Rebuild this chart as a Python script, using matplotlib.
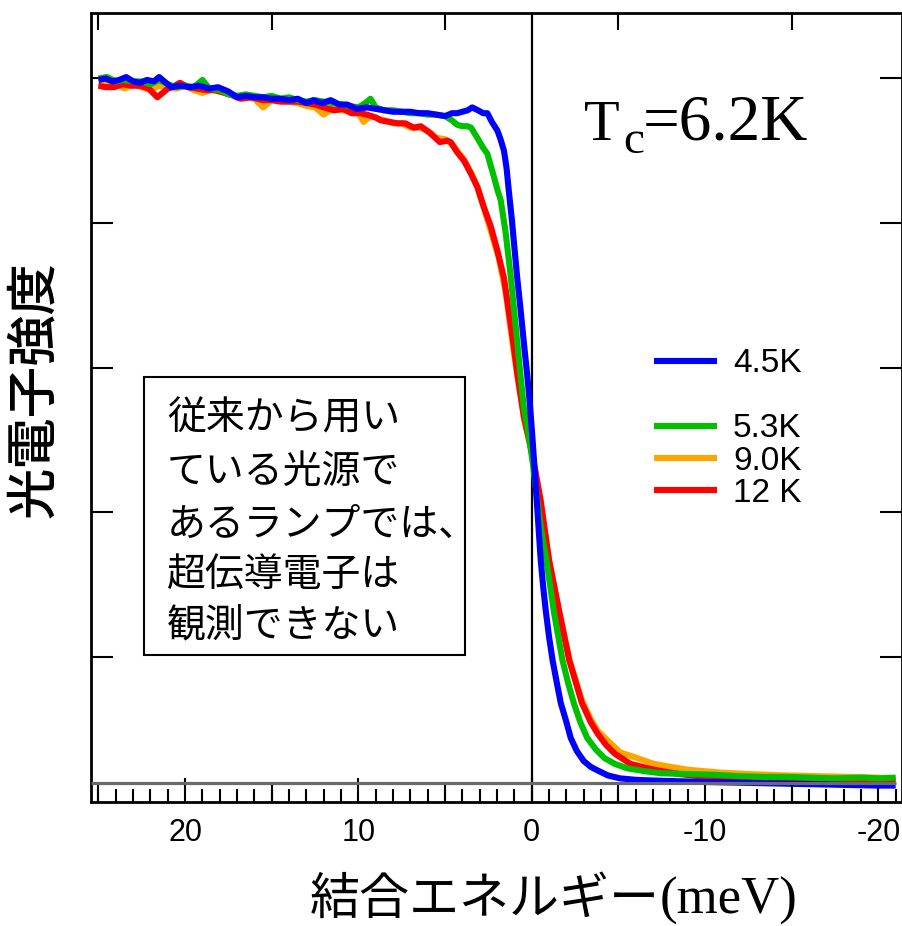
import matplotlib
matplotlib.use("Agg")
import matplotlib.pyplot as plt
from matplotlib.lines import Line2D
from matplotlib.patches import Rectangle
from matplotlib.ticker import NullLocator

plt.rcParams['font.family'] = ['Liberation Sans', 'DejaVu Sans']
plt.rcParams['axes.unicode_minus'] = False

# ---------------- data (binding energy in meV, photoelectron intensity) ----------------
e_45 = [25.0, 24.6, 24.2, 23.8, 23.4, 23.0, 22.6, 22.2, 21.8, 21.5, 21.1, 20.8, 20.3, 19.7, 19.2,
        18.6, 18.1, 17.5, 17.0, 16.5, 16.0, 15.5, 15.0, 14.5, 14.0, 13.5, 13.0, 12.6, 12.1, 11.6,
        11.1, 10.65, 10.1, 9.5, 9.0, 8.5, 8.0, 7.5, 7.0, 6.5, 6.0, 5.5, 5.0, 4.6, 4.3, 4.0, 3.7,
        3.43, 3.1, 2.8, 2.56, 2.3, 1.98, 1.8, 1.6, 1.45, 1.31, 1.15, 1.02, 0.85, 0.64, 0.45, 0.25,
        0.1, -0.04, -0.2, -0.33, -0.52, -0.65, -0.81, -1.0, -1.2, -1.45, -1.68, -2.0, -2.25, -2.6,
        -3.0, -3.4, -3.8, -4.4, -5.1, -6.0, -7.0, -8.5, -10.0, -12.0, -14.0, -16.0, -18.0, -20.0, -21.0]
i_45 = [4.99, 5.00, 4.98, 4.99, 5.01, 4.98, 4.97, 4.99, 4.98, 5.01, 4.97, 4.94, 4.95, 4.94, 4.95,
        4.93, 4.94, 4.91, 4.87, 4.88, 4.87, 4.87, 4.86, 4.86, 4.85, 4.86, 4.83, 4.85, 4.83, 4.85,
        4.82, 4.82, 4.79, 4.80, 4.79, 4.78, 4.77, 4.77, 4.77, 4.76, 4.76, 4.75, 4.74, 4.76, 4.76, 4.77, 4.78,
        4.80, 4.78, 4.76, 4.76, 4.70, 4.64, 4.58, 4.50, 4.38, 4.21, 4.03, 3.86, 3.64, 3.40, 3.17, 2.94,
        2.74, 2.52, 2.24, 2.01, 1.67, 1.50, 1.32, 1.14, 0.98, 0.82, 0.68, 0.55, 0.44, 0.35,
        0.28, 0.24, 0.215, 0.18, 0.16, 0.15, 0.145, 0.14, 0.135, 0.13, 0.125, 0.12, 0.115, 0.11, 0.11]

e_53 = [25.0, 24.5, 24.0, 23.5, 23.0, 22.5, 22.0, 21.5, 21.0, 20.5, 20.0, 19.5, 19.0, 18.6, 18.0,
        17.5, 17.0, 16.5, 16.0, 15.5, 15.0, 14.5, 14.0, 13.5, 13.0, 12.5, 12.0, 11.5, 11.0, 10.5,
        10.0, 9.6, 9.3, 9.0, 8.5, 8.0, 7.5, 7.0, 6.5, 6.0, 5.5, 5.0, 4.6, 4.3, 4.0, 3.7, 3.5, 3.14,
        2.8, 2.56, 2.37, 2.18, 1.98, 1.79, 1.5, 1.21, 0.92, 0.64, 0.45, 0.25, -0.04, -0.3, -0.52,
        -0.85, -1.27, -1.77, -2.1, -2.43, -2.8, -3.2, -3.7, -4.2, -4.8, -5.5, -6.5, -7.5, -9.0,
        -10.5, -12.0, -13.5, -14.8, -16.0, -17.5, -19.0, -20.0, -21.0]
i_53 = [5.00, 5.01, 4.98, 4.99, 4.98, 4.98, 4.96, 4.99, 4.96, 4.94, 4.95, 4.94, 4.99, 4.93, 4.92,
        4.89, 4.88, 4.89, 4.88, 4.87, 4.88, 4.86, 4.87, 4.85, 4.84, 4.85, 4.84, 4.83, 4.82, 4.81,
        4.80, 4.83, 4.86, 4.80, 4.78, 4.78, 4.77, 4.76, 4.76, 4.75, 4.75, 4.74, 4.71, 4.68, 4.67, 4.67, 4.66, 4.59,
        4.52, 4.48, 4.40, 4.32, 4.23, 4.16, 3.93, 3.63, 3.28, 2.94, 2.72, 2.59, 2.36, 2.11, 1.90,
        1.67, 1.32, 0.98, 0.82, 0.68, 0.55, 0.44, 0.36, 0.30, 0.26, 0.23, 0.21, 0.195, 0.19,
        0.185, 0.175, 0.17, 0.17, 0.165, 0.16, 0.165, 0.16, 0.165]

e_90 = [25.0, 24.5, 24.0, 23.5, 23.0, 22.5, 22.0, 21.5, 21.0, 20.5, 20.0, 19.5, 19.0, 18.5, 18.0,
        17.5, 17.0, 16.5, 16.0, 15.5, 15.0, 14.5, 14.0, 13.5, 13.0, 12.5, 12.0, 11.5, 11.0, 10.5,
        10.0, 9.7, 9.3, 9.0, 8.5, 8.0, 7.5, 7.0, 6.5, 6.0, 5.5, 5.0, 4.6, 4.3, 3.9, 3.5, 3.1, 2.7,
        2.3, 1.9, 1.5, 1.2, 0.8, 0.4, 0.0, -0.5, -1.0, -1.6, -2.2, -2.9, -3.4, -3.8, -4.4, -5.1,
        -6.1, -7.05, -8.0, -9.0, -10.9, -12.5, -14.8, -16.5, -18.6, -20.0, -21.0]
i_90 = [4.97, 4.96, 4.97, 4.93, 4.96, 4.94, 4.92, 4.95, 4.94, 4.93, 4.95, 4.92, 4.90, 4.92, 4.91,
        4.89, 4.88, 4.87, 4.86, 4.80, 4.85, 4.85, 4.84, 4.83, 4.81, 4.80, 4.75, 4.79, 4.78, 4.78,
        4.76, 4.70, 4.74, 4.73, 4.71, 4.69, 4.69, 4.66, 4.66, 4.64, 4.59, 4.58, 4.55, 4.50, 4.44, 4.35, 4.24, 4.08,
        3.92, 3.76, 3.52, 3.25, 2.92, 2.62, 2.42, 2.07, 1.67, 1.30, 0.97, 0.70, 0.57, 0.49, 0.42, 0.34,
        0.30, 0.26, 0.24, 0.22, 0.20, 0.19, 0.18, 0.175, 0.17, 0.165, 0.16]

e_12 = [25.0, 24.6, 24.1, 23.6, 23.1, 22.6, 22.1, 21.6, 21.3, 21.0, 20.6, 20.3, 19.8, 19.3, 18.8,
        18.3, 18.0, 17.4, 16.8, 16.2, 15.5, 15.0, 14.5, 14.0, 13.5, 13.0, 12.5, 12.0, 11.4, 10.9,
        10.4, 9.9, 9.5, 9.0, 8.7, 8.2, 7.76, 7.3, 6.8, 6.4, 5.84, 5.3, 4.87, 4.68, 4.3, 3.9, 3.5,
        3.14, 2.76, 2.37, 1.98, 1.6, 1.21, 0.83, 0.45, -0.04, -0.52, -1.0, -1.58, -2.16, -2.9, -3.4,
        -3.8, -4.3, -4.8, -5.7, -7.05, -8.5, -10.0, -12.0, -14.0, -16.0, -18.0, -20.0, -21.0]
i_12 = [4.95, 4.94, 4.94, 4.96, 4.95, 4.95, 4.93, 4.87, 4.90, 4.93, 4.95, 4.97, 4.94, 4.93, 4.92,
        4.92, 4.91, 4.89, 4.86, 4.87, 4.85, 4.85, 4.84, 4.84, 4.84, 4.83, 4.82, 4.80, 4.78, 4.79,
        4.76, 4.76, 4.75, 4.73, 4.71, 4.70, 4.69, 4.69, 4.66, 4.67, 4.62, 4.56, 4.57, 4.56, 4.49, 4.43, 4.34,
        4.25, 4.11, 3.98, 3.81, 3.62, 3.30, 2.96, 2.66, 2.40, 2.08, 1.67, 1.32, 0.98, 0.68, 0.55,
        0.47, 0.39, 0.33, 0.26, 0.22, 0.19, 0.17, 0.16, 0.15, 0.15, 0.145, 0.14, 0.14]

labels = ['4.5K', '5.3K', '9.0K', '12 K']
colors = ['#0000FF', '#00C000', '#FFA500', '#FF0000']
baseline_level = 0.125

xlim = (25.43, -21.35)
ylim = (0.0, 5.455)
major_xticks = [20, 10, 0, -10, -20]
major_xticklabels = ['20', '10', '0', '-10', '-20']
mid_xticks = [25, 15, 5, -5, -15]
minor_xticks = list(range(-21, 26))
yticks = [1, 2, 3, 4, 5]

tc_symbol = 'T'
tc_sub = 'c'
tc_value = '=6.2K'
box_lines = ['従来から用い', 'ている光源で', 'あるランプでは、', '超伝導電子は', '観測できない']
ylabel_text = '光電子強度'
xlabel_jp = '結合エネルギー'
xlabel_unit = '(meV)'

# ---------------- figure ----------------
W, H = 903, 926
fig = plt.figure(figsize=(W / 100, H / 100), dpi=100)
AX_L, AX_R, AX_T, AX_B = 91, 901.7, 12.7, 801.5
ax = fig.add_axes([AX_L / W, 1 - AX_B / H, (AX_R - AX_L) / W, (AX_B - AX_T) / H])


def fx(px):
    return px / W


def fy(py):
    return 1 - py / H


series = [(e_45, i_45), (e_53, i_53), (e_90, i_90), (e_12, i_12)]
handles = {}
draw_order = [2, 3, 1, 0]  # orange, red, green, blue on top
for k in draw_order:
    e, i = series[k]
    ln, = ax.plot(e, i, color=colors[k], lw=4.4, solid_joinstyle='round',
                  solid_capstyle='butt', zorder=3 + draw_order.index(k), label=labels[k])
    handles[k] = ln

ax.axvline(0, color='black', lw=1.6, zorder=2)
ax.hlines(baseline_level, xlim[0], min(e_45), color='#6a6a6a', lw=2.3, zorder=8)

ax.set_xlim(*xlim)
ax.set_ylim(*ylim)

ax.set_xticks(major_xticks)
ax.set_xticklabels(major_xticklabels)
ax.set_xticks(minor_xticks, minor=True)
ax.tick_params(axis='x', which='major', direction='in', length=17, width=1.5,
               top=True, bottom=True, pad=12, labelsize=22)
ax.tick_params(axis='x', which='minor', direction='in', length=9.3, width=1.5,
               top=True, bottom=True)
ax.set_yticks(yticks)
ax.set_yticklabels([])
ax.yaxis.set_minor_locator(NullLocator())
ax.tick_params(axis='y', which='major', direction='in', length=16, width=1.5,
               left=True, right=True, labelleft=False)
for s in ax.spines.values():
    s.set_linewidth(2.0)

ax5 = ax.twiny()
ax5.set_xlim(*xlim)
ax5.set_xticks(mid_xticks)
ax5.xaxis.set_minor_locator(NullLocator())
ax5.tick_params(axis='x', which='major', direction='in', length=12.5, width=1.5,
                top=True, bottom=True, labeltop=False, labelbottom=False)
for s in ax5.spines.values():
    s.set_visible(False)

# legend with a blank row between 4.5K and 5.3K
blank = Line2D([], [], color='none')
leg = ax.legend([handles[0], blank, handles[1], handles[2], handles[3]],
                [labels[0], ' ', labels[1], labels[2], labels[3]],
                loc='upper left',
                bbox_to_anchor=((654 - AX_L) / (AX_R - AX_L), (AX_B - 348.5) / (AX_B - AX_T)),
                frameon=False, fontsize=24, handlelength=1.89, handletextpad=0.48,
                labelspacing=0.04, borderpad=0, borderaxespad=0)
for ln in leg.get_lines():
    ln.set_linewidth(4.4)

# Tc label
serif = ['Liberation Serif', 'DejaVu Serif']
fig.text(fx(601.5), fy(140), tc_symbol, ha='center', va='baseline', fontsize=42, family=serif)
fig.text(fx(634), fy(153), tc_sub, ha='center', va='baseline', fontsize=34, family=serif)
fig.text(fx(643), fy(140), tc_value, ha='left', va='baseline', fontsize=47, family=serif)

# annotation box
fig.patches.append(Rectangle((fx(144), fy(655)), (465 - 144) / W, (655 - 377) / H,
                             transform=fig.transFigure, facecolor='white', edgecolor='black',
                             lw=1.5, zorder=5))
cjk = ['Noto Sans CJK JP', 'DejaVu Sans']
line_centers = [418.5, 471.5, 525, 575, 625]
for txt, py in zip(box_lines, line_centers):
    fig.text(fx(167), fy(py), txt, ha='left', va='center', fontsize=28, family=cjk, zorder=6)

# axis labels
fig.text(fx(34), fy(390), ylabel_text, rotation=90, ha='center', va='center',
         fontsize=37, family=cjk, weight='medium')
fig.text(fx(660), fy(914), xlabel_jp, ha='right', va='baseline', fontsize=36, family=cjk)
fig.text(fx(660), fy(914), xlabel_unit, ha='left', va='baseline', fontsize=38, family=serif)

fig.savefig('out.png', dpi=100)
